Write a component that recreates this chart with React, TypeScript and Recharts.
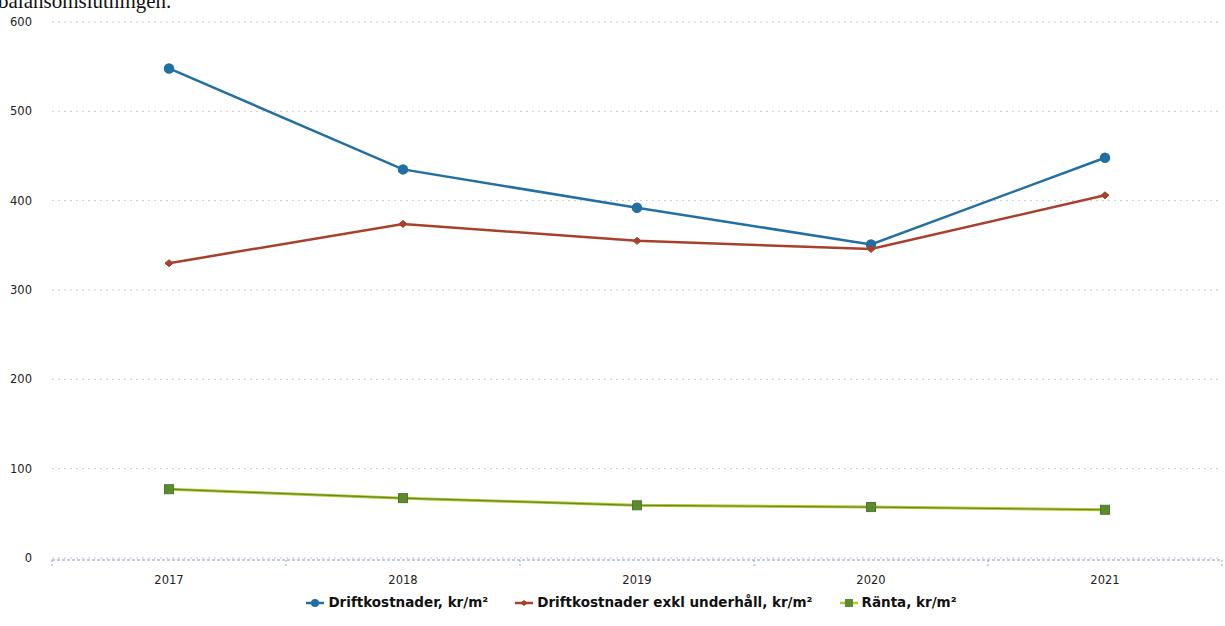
import {
  LineChart,
  Line,
  XAxis,
  YAxis,
  CartesianGrid,
  Legend,
} from "recharts";

const years = ["2017", "2018", "2019", "2020", "2021"];
const driftkostnader = [548, 435, 392, 351, 448];
const driftExklUnderhall = [330, 374, 355, 346, 406];
const ranta = [77, 67, 59, 57, 54];
const yTicks = [0, 100, 200, 300, 400, 500, 600];
const boundTicks = [0, 1, 2, 3, 4, 5];

const BLUE = "#2270a3";
const RED = "#a8402c";
const GREEN_LINE = "#b9c726";
const GREEN_MARK = "#5b8a2f";

const data = years.map((y, i) => ({
  year: y,
  drift: driftkostnader[i],
  driftExkl: driftExklUnderhall[i],
  ranta: ranta[i],
  pos: i + 0.5,
}));

const seriesInfo = [
  { key: "drift", name: "Driftkostnader, kr/m²", color: BLUE, shape: "circle" },
  { key: "driftExkl", name: "Driftkostnader exkl underhåll, kr/m²", color: RED, shape: "diamond" },
  { key: "ranta", name: "Ränta, kr/m²", color: GREEN_LINE, shape: "square" },
];

function Diamond(props: any) {
  const { cx, cy } = props;
  if (cx == null || cy == null) return null;
  return (
    <path
      d={`M${cx - 4},${cy} L${cx},${cy - 3.5} L${cx + 4},${cy} L${cx},${cy + 3.5} Z`}
      fill={RED}
      stroke={RED}
    />
  );
}

function Square(props: any) {
  const { cx, cy } = props;
  if (cx == null || cy == null) return null;
  return <rect x={cx - 4.5} y={cy - 4.5} width={9} height={9} fill={GREEN_MARK} stroke="#4a7a28" />;
}

function LegendIcon({ shape, color }: { shape: string; color: string }) {
  return (
    <svg width={20} height={12} style={{ verticalAlign: "middle", marginRight: 3 }}>
      <line x1={1} y1={6} x2={19} y2={6} stroke={color} strokeWidth={2.5} />
      {shape === "circle" && <circle cx={10} cy={6} r={4} fill={BLUE} />}
      {shape === "diamond" && <path d="M6,6 L10,3 L14,6 L10,9 Z" fill={RED} />}
      {shape === "square" && <rect x={6} y={2} width={8} height={8} fill={GREEN_MARK} />}
    </svg>
  );
}

function LegendContent() {
  return (
    <div
      style={{
        display: "flex",
        justifyContent: "center",
        gap: 26,
        fontFamily: "'DejaVu Sans', Verdana, sans-serif",
        fontWeight: "bold",
        fontSize: 13.5,
        color: "#111",
        paddingLeft: 40,
      }}
    >
      {seriesInfo.map((s) => (
        <span key={s.key} style={{ whiteSpace: "nowrap" }}>
          <LegendIcon shape={s.shape} color={s.color} />
          {s.name}
        </span>
      ))}
    </div>
  );
}

export default function App() {
  return (
    <div
      style={{
        position: "absolute",
        left: 0,
        top: 0,
        width: 1225,
        height: 626,
        background: "#fff",
        overflow: "hidden",
      }}
    >
      <div
        style={{
          position: "absolute",
          left: -2,
          top: -11,
          fontFamily: "'Liberation Serif', serif",
          fontSize: 21,
          color: "#111",
        }}
      >
        balansomslutningen.
      </div>
      <LineChart
        width={1225}
        height={626}
        data={data}
        margin={{ top: 22, right: 3, left: 0, bottom: 6 }}
        style={{ fontFamily: "'DejaVu Sans', Verdana, sans-serif" }}
      >
        <CartesianGrid
          xAxisId="yr"
          horizontal
          vertical={false}
          stroke="#c8c8c8"
          strokeDasharray="2 4"
        />
        <XAxis
          xAxisId="edge"
          dataKey="pos"
          type="number"
          domain={[0, 5]}
          ticks={boundTicks}
          axisLine={false}
          tickFormatter={() => ""}
          tickLine={{ stroke: "#9aa8c0", strokeDasharray: "2 2" }}
          tickSize={8}
          height={2}
        />
        <XAxis
          dataKey="year"
          xAxisId="yr"
          padding={{ left: 117, right: 117 }}
          axisLine={{ stroke: "#7f9bc4", strokeDasharray: "3 2" }}
          tickLine={false}
          tick={{ fill: "#222", fontSize: 11.5 }}
          tickMargin={10}
          height={34}
        />
        <YAxis
          domain={[0, 600]}
          ticks={yTicks}
          axisLine={false}
          tickLine={false}
          tick={{ fill: "#222", fontSize: 11.5 }}
          width={52}
          tickMargin={14}
        />
        <Legend verticalAlign="bottom" content={<LegendContent />} height={26} />
        <Line
          xAxisId="yr"
          dataKey="drift"
          name="Driftkostnader, kr/m²"
          stroke={BLUE}
          strokeWidth={2.5}
          dot={{ r: 4, fill: BLUE, stroke: BLUE }}
          isAnimationActive={false}
        />
        <Line
          xAxisId="yr"
          dataKey="driftExkl"
          name="Driftkostnader exkl underhåll, kr/m²"
          stroke={RED}
          strokeWidth={2.5}
          dot={<Diamond />}
          isAnimationActive={false}
        />
        <Line
          xAxisId="yr"
          dataKey="ranta"
          name="Ränta, kr/m²"
          stroke={GREEN_LINE}
          strokeWidth={3}
          dot={<Square />}
          isAnimationActive={false}
        />
        <Line
          xAxisId="yr"
          dataKey="ranta"
          stroke={GREEN_MARK}
          strokeWidth={1.2}
          dot={false}
          legendType="none"
          isAnimationActive={false}
        />
      </LineChart>
    </div>
  );
}
